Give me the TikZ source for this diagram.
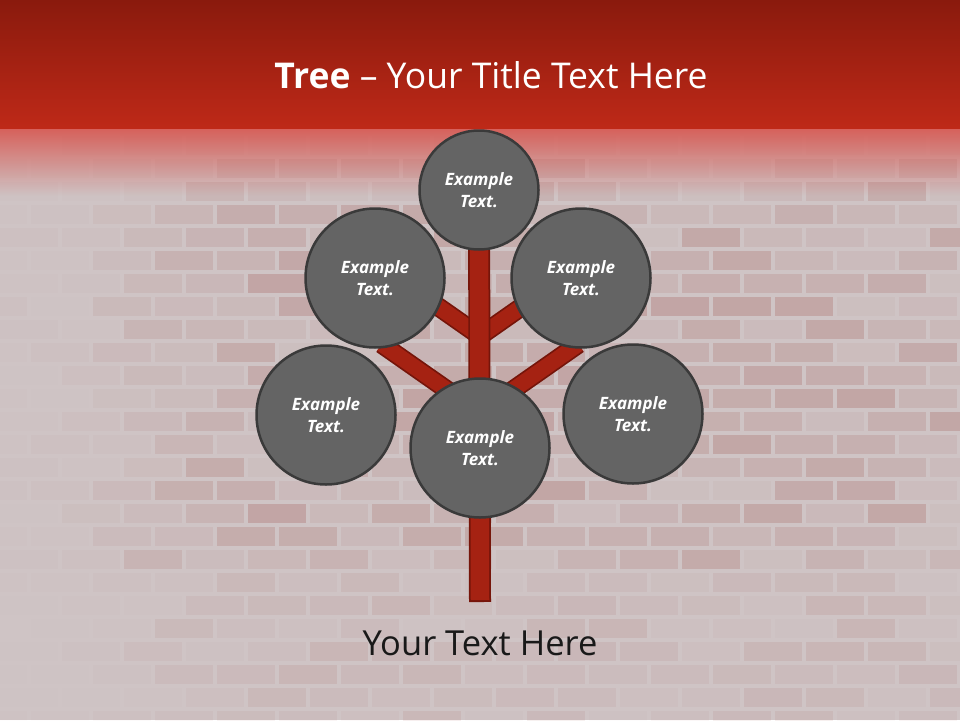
\documentclass[tikz,border=0pt]{standalone}
\usepackage{fontspec}
\setmainfont{Open Sans}
\usetikzlibrary{calc}

\definecolor{bandtop}{HTML}{8A1A0D}
\definecolor{bandbot}{HTML}{BE2918}
\definecolor{fadetop}{HTML}{D6605A}
\definecolor{wallbg}{HTML}{CFC4C5}
\definecolor{brickred}{HTML}{8E2A22}
\definecolor{woodfill}{HTML}{A52212}
\definecolor{woodedge}{HTML}{75150A}
\definecolor{leaffill}{HTML}{646464}
\definecolor{leafedge}{HTML}{3A3A3A}

\pgfdeclarelayer{backdrop}
\pgfdeclarelayer{wood}
\pgfsetlayers{backdrop,wood,main}

\tikzset{
	leaf/.style={circle, fill=leaffill, draw=leafedge, line width=2.5pt,
		minimum size=139pt, inner sep=0pt, text=white, align=center,
		font=\fontsize{17}{22}\selectfont\bfseries\itshape},
	woodline/.style={line width=#1, draw=woodedge},
	woodcore/.style={line width=#1, draw=woodfill}
}

\begin{document}
\begin{tikzpicture}[x=1pt, y=-1pt]
		
		% ==========================================
		% BACKGROUND: TITLE BAND & BRICK WALL
		% ==========================================
		\begin{pgfonlayer}{backdrop}
			\useasboundingbox (0,0) rectangle (960,720);
			\fill[wallbg] (0,0) rectangle (960,720);
			\shade[top color=fadetop, bottom color=wallbg] (0,128) rectangle (960,196);
			
			% faint bricks, stronger in the middle of the wall
			\pgfmathsetseed{11}
			\foreach \r in {0,...,25} {
				\pgfmathsetmacro{\yy}{136 + \r*23}
				\pgfmathsetmacro{\sh}{mod(\r,2)*31}
				\pgfmathsetmacro{\wy}{\yy < 196 ? (\yy - 130)/66 : (\yy < 560 ? 1 : 0.45)}
				\foreach \c in {0,...,16} {
					\pgfmathsetmacro{\xx}{\c*62 - \sh}
					\pgfmathsetmacro{\wx}{min(1, max(0.12, (\xx - 30)/180))}
					\pgfmathsetmacro{\op}{(0.03 + 0.17*rnd)*\wx*\wy}
					\fill[brickred, fill opacity=\op] (\xx, \yy) rectangle ++(58, 19);
				}
			}
			
			\shade[top color=bandtop, bottom color=bandbot] (0,0) rectangle (960,128);
		\end{pgfonlayer}
		
		% ==========================================
		% TITLE
		% ==========================================
		\node[anchor=base, text=white, font=\fontsize{35.5}{42}\selectfont] (title) at (491,88)
			{\textbf{Tree} – Your Title Text Here};
		
		% ==========================================
		% CROWN (CIRCLES)
		% ==========================================
		\node[leaf, minimum size=119pt] (top) at (479,190) {Example\\Text.};
		\node[leaf] (upleft)  at (375,278) {Example\\Text.};
		\node[leaf] (upright) at (581,278) {Example\\Text.};
		\node[leaf] (lowleft) at (326,415) {Example\\Text.};
		\node[leaf] (middle)  at (480,448) {Example\\Text.};
		\node[leaf] (lowright) at (633,414) {Example\\Text.};
		
		% ==========================================
		% TRUNK & BRANCHES
		% ==========================================
		% y axis points down, so 215 is up-left and 325 is up-right
		\coordinate (root)   at (480,602);
		\coordinate (forkhi) at (480,336);
		\coordinate (forklo) at (480,413);
		\coordinate (twighl) at ($(forkhi)+(215:95)$);
		\coordinate (twighr) at ($(forkhi)+(325:95)$);
		\coordinate (twigll) at ($(forklo)+(215:120)$);
		\coordinate (twiglr) at ($(forklo)+(325:120)$);
		
		\begin{pgfonlayer}{wood}
			\foreach \fork/\twig in {forkhi/twighl, forkhi/twighr, forklo/twigll, forklo/twiglr} {
				\draw[woodline=19pt] (\fork) -- (\twig);
				\draw[woodcore=15.5pt] (\fork) -- (\twig);
			}
			% trunk
			\draw[woodline=22pt] (top.center) -- (root);
			\draw[woodcore=18.5pt, shorten >=1.8pt] (top.center) -- (root);
		\end{pgfonlayer}
		
		% ==========================================
		% CAPTION
		% ==========================================
		\node[anchor=base, text=black!90, font=\fontsize{34.5}{40}\selectfont] (caption) at (480,655)
			{Your Text Here};
		
	\end{tikzpicture}
\end{document}
